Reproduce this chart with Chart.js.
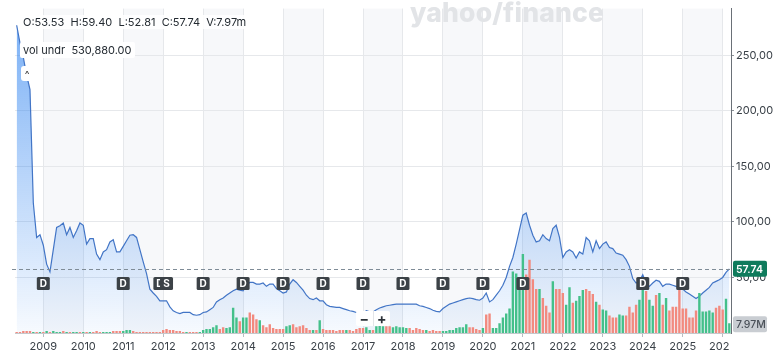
<!DOCTYPE html>
<html>
<head>
<meta charset="utf-8">
<script src="https://cdn.jsdelivr.net/npm/chart.js@4.4.1/dist/chart.umd.min.js"></script>
<style>
    html, body { margin: 0; padding: 0; background: #fff; }
    #wrap { position: relative; width: 780px; height: 359px; font-family: Inter, 'Noto Sans', sans-serif; }
    canvas { display: block; }
    .watermark { position: absolute; left: 410px; top: -4px; font-size: 26.5px; font-weight: 800; color: #e2e4e7; letter-spacing: 0.2px; }
    .ohlc { position: absolute; left: 21px; top: 15px; font-size: 11px; color: #232a31; white-space: pre; background: rgba(255,255,255,0.85); padding: 0 2px; }
    .vol { position: absolute; left: 20px; top: 42px; font-size: 11px; color: #232a31; white-space: pre; background: #fff; padding: 1px 3px; border-radius: 2px; }
    .collapse { position: absolute; left: 21px; top: 66px; width: 12px; height: 15px; background: #fff; border-radius: 3px; font-size: 10px; color: #333; text-align: center; line-height: 17px; }
    .zoombox { position: absolute; left: 356px; top: 311px; width: 34px; height: 15px; background: #fff; border-radius: 2px; display: flex; font-weight: 700; color: #2c3238; font-size: 14px; line-height: 15px; }
    .zoombox span { flex: 1; text-align: center; }
    .zoombox span + span { border-left: 1px solid #e3e5e8; }
</style>
</head>
<body>
<div id="wrap">
    <canvas id="chart" width="780" height="359"></canvas>
    <div class="watermark">yahoo/finance</div>
    <div class="ohlc">O:53.53  H:59.40  L:52.81  C:57.74  V:7.97m</div>
    <div class="vol">vol undr  530,880.00</div>
    <div class="collapse">^</div>
    <div class="zoombox"><span>−</span><span>+</span></div>
</div>
<script>
// --- DATA (monthly, May 2008 - Mar 2026) ---
const years = ['2009', '2010', '2011', '2012', '2013', '2014', '2015', '2016', '2017',
    '2018', '2019', '2020', '2021', '2022', '2023', '2024', '2025', '2026'];

const close = [
    277, 261, 248, 232, 219, 117, 86, 88.5,
    79, 62, 55, 75, 95, 96.5, 99, 88.5, 95, 86, 92, 99,
    97, 80, 85, 85, 71, 66, 73, 75, 82, 84, 73, 73,
    78, 83, 88, 88.5, 86, 75, 64, 53.5, 39.5, 36, 33, 29,
    29, 29, 23.5, 20, 18.5, 17.5, 18.5, 18.5, 18.5, 16.5, 16, 16.5,
    18.5, 19, 21, 23, 28, 30, 31.5, 34, 36, 38, 39.5, 38.5,
    38, 43, 45.5, 45.5, 44, 44, 45, 42, 44, 44, 40, 38,
    36, 37, 44, 48, 45.5, 42, 38.5, 34, 31, 30, 31.5, 29,
    29, 25.5, 24, 23.5, 23, 23, 22, 21, 20, 19.5, 18.5, 17.5,
    17.5, 20, 19, 19, 21, 22.5, 23.5, 24.5, 25, 25.5, 26, 26,
    26, 26, 26, 26, 26, 24.5, 24, 23, 22, 20.5, 19.5, 19,
    22, 24, 26, 27, 28, 29, 30, 31, 31.5, 31, 30, 29.5,
    31.5, 36, 28, 30, 34, 38, 43, 50, 60, 68, 80, 93,
    106, 108, 97, 88, 82, 83, 88.5, 85, 83, 94, 97, 86,
    68, 73, 75, 73, 67.5, 73, 71, 86, 83, 73, 83, 76,
    80, 82, 77, 76, 72, 71, 70, 66, 60, 49, 45, 46.5,
    52.5, 45, 42, 45, 47.5, 46.5, 42, 44, 44, 43, 42, 40,
    39.5, 37, 35, 33, 31, 33, 36, 38.5, 41, 45, 46.5, 48,
    50, 54.5, 57.74
];

// volume in millions
const volume = [
    0.8, 0.8, 1.6, 1.6, 1.6, 0.8, 0.8, 0.8,
    0.8, 1.6, 0.8, 1.6, 0.8, 0.8, 1.6, 0.8, 0.8, 0.8, 0.8, 0.8,
    0.8, 0.8, 0.8, 0.8, 1.6, 0.8, 0.8, 0.8, 0.8, 1.6, 1.6, 1.6,
    1.6, 2.4, 2.4, 1.6, 0.8, 0.8, 0.8, 0.8, 0.8, 0.8, 0.8, 0.8,
    2.4, 3.2, 2.4, 2.4, 1.6, 1.6, 0.8, 0.8, 0.8, 0.8, 0.8, 0.8,
    2.4, 3.2, 3.2, 4.8, 6.4, 3.2, 4.8, 4, 4.8, 20.8, 12.8, 9.6,
    12.8, 12.8, 16.8, 15.2, 11.2, 10.4, 6.4, 4.8, 7.2, 4, 3.2, 3.2,
    3.2, 5.6, 6.4, 7.2, 4.8, 5.6, 6.4, 4, 2.4, 2.4, 2.4, 10.4,
    3.2, 2.4, 2.4, 2.4, 1.6, 2.4, 2.4, 2.4, 2.4, 1.6, 3.2, 4,
    4, 4.8, 2.4, 2.4, 5.6, 6.4, 5.6, 5.6, 5.6, 4.8, 5.6, 4.8,
    4.8, 4, 4, 2.4, 4, 3.2, 2.4, 2.4, 1.6, 2.4, 1.6, 1.6,
    1.6, 1.6, 2.4, 2.4, 4, 4.8, 4.8, 7.2, 4.8, 4.8, 3.2, 2.4,
    4, 15.2, 16, 4, 4, 8, 12.8, 16, 20, 50.4, 48.8, 44.8,
    64.8, 48, 60, 44, 36, 36, 28.8, 22.4, 16.8, 42.4, 36, 36,
    32.8, 23.2, 37.6, 24.8, 26.4, 30.4, 35.2, 36, 34.4, 32, 25.6, 23.2,
    19.2, 18.4, 14.4, 12.8, 12.8, 15.2, 14.4, 14.4, 21.6, 16.8, 23.2, 27.2,
    44.8, 34.4, 27.2, 22.4, 31.2, 32.8, 23.2, 28.8, 18.4, 21.6, 21.6, 35.2,
    20, 20, 12.8, 12.8, 18.4, 32.8, 17.6, 17.6, 18.4, 16.8, 20.8, 22.4,
    19.2, 28, 7.97
];

// u = up month (green), d = down month (red)
const volDir = [
    'd', 'd', 'd', 'd', 'd', 'u', 'd', 'u',
    'd', 'u', 'd', 'u', 'u', 'u', 'd', 'u', 'd', 'u', 'u', 'd',
    'u', 'd', 'u', 'd', 'd', 'd', 'u', 'u', 'u', 'd', 'd', 'd',
    'u', 'u', 'u', 'd', 'd', 'd', 'd', 'd', 'd', 'd', 'd', 'd',
    'd', 'd', 'd', 'd', 'd', 'd', 'd', 'u', 'd', 'd', 'd', 'u',
    'u', 'u', 'u', 'u', 'u', 'd', 'd', 'u', 'u', 'u', 'u', 'd',
    'u', 'u', 'd', 'd', 'd', 'u', 'd', 'd', 'd', 'd', 'd', 'd',
    'd', 'u', 'u', 'd', 'd', 'd', 'd', 'd', 'd', 'u', 'd', 'u',
    'd', 'd', 'd', 'd', 'd', 'd', 'd', 'u', 'd', 'd', 'd', 'd',
    'd', 'u', 'u', 'd', 'u', 'u', 'u', 'd', 'd', 'u', 'u', 'u',
    'u', 'u', 'd', 'd', 'd', 'd', 'd', 'u', 'd', 'd', 'd', 'd',
    'u', 'u', 'u', 'u', 'u', 'u', 'u', 'u', 'd', 'd', 'd', 'd',
    'u', 'd', 'd', 'u', 'u', 'u', 'u', 'u', 'u', 'u', 'u', 'u',
    'u', 'd', 'd', 'd', 'd', 'u', 'd', 'd', 'd', 'u', 'd', 'd',
    'd', 'u', 'u', 'd', 'u', 'u', 'u', 'd', 'd', 'd', 'u', 'd',
    'u', 'u', 'd', 'd', 'd', 'u', 'u', 'd', 'd', 'd', 'd', 'u',
    'u', 'd', 'u', 'u', 'd', 'u', 'd', 'u', 'd', 'd', 'd', 'd',
    'd', 'd', 'd', 'd', 'd', 'u', 'u', 'u', 'u', 'u', 'd', 'd',
    'd', 'u', 'u'
];

// dividend / split markers
const markers = [
    ['2009-01', 'D'], ['2011-01', 'D'], ['2011-12', 'D'], ['2012-02', 'S'],
    ['2013-01', 'D'], ['2014-01', 'D'], ['2015-01', 'D'], ['2016-01', 'D'],
    ['2017-01', 'D'], ['2018-01', 'D'], ['2019-01', 'D'], ['2020-01', 'D'],
    ['2021-01', 'D'], ['2024-01', 'D'], ['2025-01', 'D']
];

const lastClose = 57.74;
const lastVolumeLabel = '7.97M';

// month labels
const labels = [];
for (let y = 2008, m = 5; labels.length < close.length; m++) {
    if (m > 12) { m = 1; y++; }
    labels.push(y + '-' + String(m).padStart(2, '0'));
}
const isYearStart = i => labels[i] && labels[i].endsWith('-01') && years.includes(labels[i].slice(0, 4));

const GREEN = '#44c08a';
const RED = '#f28a7f';

// --- PLUGINS ---
const bandsPlugin = {
    id: 'bands',
    beforeDraw(chart) {
        const { ctx, chartArea, scales } = chart;
        ctx.save();
        ctx.fillStyle = '#f7f8fa';
        years.forEach((yr, k) => {
            if (k % 2 !== 0) return;
            const i0 = labels.indexOf(yr + '-01');
            const i1 = labels.indexOf((+yr + 1) + '-01');
            const x0 = scales.x.getPixelForValue(i0);
            const x1 = i1 >= 0 ? scales.x.getPixelForValue(i1) : chartArea.right;
            ctx.fillRect(x0, chartArea.top, x1 - x0, chartArea.bottom - chartArea.top);
        });
        ctx.restore();
    }
};

const overlayPlugin = {
    id: 'overlay',
    afterDraw(chart) {
        const { ctx, chartArea, scales } = chart;
        const yLast = scales.y.getPixelForValue(lastClose);
        ctx.save();

        // dashed last price line
        ctx.strokeStyle = '#7f8c97';
        ctx.lineWidth = 1;
        ctx.setLineDash([4, 3]);
        ctx.beginPath();
        ctx.moveTo(chartArea.left - 3, Math.round(yLast) + 0.5);
        ctx.lineTo(chartArea.right, Math.round(yLast) + 0.5);
        ctx.stroke();
        ctx.setLineDash([]);

        // D / S markers
        ctx.font = 'bold 10px Inter, sans-serif';
        ctx.textAlign = 'center';
        ctx.textBaseline = 'middle';
        markers.forEach(([lab, txt]) => {
            const x = scales.x.getPixelForValue(labels.indexOf(lab));
            ctx.fillStyle = '#3c4247';
            ctx.beginPath();
            ctx.roundRect(x - 6.5, 277, 13, 13, 1.5);
            ctx.fill();
            ctx.fillStyle = '#fff';
            ctx.fillText(txt, x, 283.5);
        });

        // clip the last x label at the axis edge
        ctx.fillStyle = '#fff';
        ctx.fillRect(chartArea.right - 1, chartArea.bottom + 6, 60, 30);

        // last price tag
        ctx.fillStyle = '#0f7b5c';
        ctx.beginPath();
        ctx.roundRect(chartArea.right + 2, yLast - 8, 34, 16, 2);
        ctx.fill();
        ctx.fillStyle = '#fff';
        ctx.font = '600 10.5px Inter, sans-serif';
        ctx.textAlign = 'left';
        ctx.fillText(lastClose.toFixed(2), chartArea.right + 5, yLast + 0.5);

        // last volume tag
        const yVol = scales.yv.getPixelForValue(volume[volume.length - 1]);
        ctx.fillStyle = '#c9cdd2';
        ctx.beginPath();
        ctx.roundRect(chartArea.right + 2, yVol - 7, 34, 16, 2);
        ctx.fill();
        ctx.fillStyle = '#4a5058';
        ctx.font = '500 10.5px Inter, sans-serif';
        ctx.fillText(lastVolumeLabel, chartArea.right + 5, yVol + 1.5);
        ctx.restore();
    }
};

// --- CHART ---
const canvas = document.getElementById('chart');
new Chart(canvas, {
    type: 'bar',
    data: {
        labels: labels,
        datasets: [
            {
                type: 'bar',
                label: 'Volume',
                data: volume,
                yAxisID: 'yv',
                backgroundColor: volDir.map(d => d === 'u' ? GREEN : RED),
                borderWidth: 0,
                categoryPercentage: 1,
                barPercentage: 0.72,
                order: 1
            },
            {
                type: 'line',
                label: 'Close',
                data: close,
                yAxisID: 'y',
                borderColor: '#4275c6',
                borderWidth: 1.2,
                pointRadius: 0,
                tension: 0,
                fill: 'start',
                backgroundColor: (ctx) => {
                    const area = ctx.chart.chartArea;
                    if (!area) return 'rgba(45,130,240,0.3)';
                    const g = ctx.chart.ctx.createLinearGradient(0, area.top, 0, area.bottom);
                    g.addColorStop(0, 'rgba(45,130,240,0.65)');
                    g.addColorStop(1, 'rgba(45,130,240,0.04)');
                    return g;
                },
                order: 2
            }
        ]
    },
    options: {
        responsive: false,
        animation: false,
        layout: { padding: { left: 15, top: 0, right: 0, bottom: 0 } },
        plugins: {
            legend: { display: false },
            tooltip: { enabled: false }
        },
        scales: {
            x: {
                offset: true,
                grid: {
                    offset: false,
                    color: ctx => isYearStart(ctx.index) ? '#e6e8eb' : 'transparent',
                    tickColor: ctx => isYearStart(ctx.index) ? '#b9bdc2' : 'transparent',
                    tickLength: 4
                },
                border: { color: '#c4c8cc' },
                ticks: {
                    autoSkip: false,
                    maxRotation: 0,
                    minRotation: 0,
                    padding: 3,
                    color: '#3a4148',
                    font: { family: 'Inter', size: 11 },
                    callback: (val, i) => isYearStart(i) ? labels[i].slice(0, 4) : ''
                },
                afterFit: s => { s.height = 26; }
            },
            y: {
                position: 'right',
                min: 0,
                max: 292,
                grid: {
                    color: ctx => (ctx.tick && ctx.tick.value > 0 && ctx.tick.value % 50 === 0) ? '#e6e8eb' : 'transparent',
                    tickColor: ctx => (ctx.tick && ctx.tick.value > 0 && ctx.tick.value % 50 === 0) ? '#8a9097' : 'transparent',
                    tickLength: 3
                },
                border: { color: '#6a7077' },
                ticks: {
                    stepSize: 50,
                    padding: 2,
                    color: '#3a4148',
                    font: { family: 'Inter', size: 11 },
                    callback: v => (v > 0 && v % 50 === 0) ? v.toFixed(2).replace('.', ',') : ''
                },
                afterFit: s => { s.width = 49; }
            },
            yv: {
                display: false,
                min: 0,
                max: 266
            }
        }
    },
    plugins: [bandsPlugin, overlayPlugin]
});
</script>
</body>
</html>
